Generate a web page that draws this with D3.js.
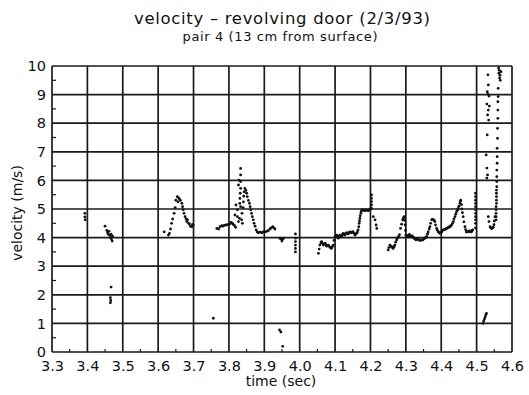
<!DOCTYPE html>
<html>
<head>
<meta charset="utf-8">
<script src="https://cdn.jsdelivr.net/npm/d3@7"></script>
<style>
  body { margin: 0; background: #fff; }
  svg text { font-family: "DejaVu Sans", sans-serif; fill: #111; }
</style>
</head>
<body>
<div id="chart"></div>
<script>
// axis ticks
const xTicks = [3.3, 3.4, 3.5, 3.6, 3.7, 3.8, 3.9, 4.0, 4.1, 4.2, 4.3, 4.4, 4.5, 4.6];
const yTicks = [0, 1, 2, 3, 4, 5, 6, 7, 8, 9, 10];

// velocity samples [time (sec), velocity (m/s)]
const burst339 = [[3.393, 4.85], [3.393, 4.72], [3.394, 4.62]];
const burst345 = [[3.450, 4.40], [3.455, 4.25], [3.457, 4.18], [3.459, 4.12], [3.461, 4.22], [3.463, 4.08],
  [3.465, 4.00], [3.467, 4.12], [3.468, 3.95], [3.470, 3.88], [3.471, 4.05]];
const lowDots = [[3.467, 2.27], [3.465, 1.90], [3.466, 1.80], [3.465, 1.72], [3.756, 1.18],
  [3.943, 0.77], [3.947, 0.70], [3.952, 0.20]];
const burst362 = [[3.617, 4.20], [3.629, 4.09], [3.632, 4.15], [3.635, 4.30], [3.638, 4.50], [3.641, 4.65],
  [3.645, 4.85], [3.648, 5.05], [3.650, 5.31], [3.654, 5.43], [3.657, 5.40], [3.656, 5.25], [3.660, 5.35],
  [3.663, 5.30], [3.667, 5.20], [3.669, 5.08], [3.671, 4.97], [3.673, 4.85], [3.676, 4.73], [3.679, 4.65],
  [3.681, 4.56], [3.683, 4.62], [3.686, 4.50], [3.688, 4.48], [3.691, 4.40], [3.695, 4.38], [3.697, 4.46],
  [3.699, 4.44]];
const burst377 = [[3.766, 4.32], [3.771, 4.30], [3.775, 4.38], [3.780, 4.42], [3.783, 4.40], [3.787, 4.43],
  [3.792, 4.44], [3.796, 4.45], [3.800, 4.47], [3.803, 4.48], [3.806, 4.53], [3.810, 4.50], [3.812, 4.46],
  [3.816, 4.42], [3.819, 4.36]];
const spike383 = [[3.833, 6.42], [3.833, 6.19], [3.833, 5.96], [3.833, 5.72], [3.832, 5.55], [3.831, 5.37],
  [3.831, 5.20], [3.833, 5.08], [3.837, 4.85], [3.836, 4.62], [3.838, 4.50], [3.820, 5.14], [3.817, 4.79],
  [3.824, 4.97], [3.824, 4.73], [3.827, 4.56], [3.830, 4.67], [3.828, 6.01], [3.827, 5.84]];
const burst385 = [[3.840, 5.05], [3.841, 5.25], [3.842, 5.45], [3.843, 5.60], [3.845, 5.72], [3.848, 5.65],
  [3.850, 5.55], [3.852, 5.43], [3.855, 5.30], [3.858, 5.20], [3.860, 5.08], [3.862, 4.97], [3.864, 4.85],
  [3.866, 4.73], [3.869, 4.62], [3.871, 4.50], [3.874, 4.40], [3.877, 4.27], [3.880, 4.20], [3.883, 4.17],
  [3.888, 4.19], [3.893, 4.17], [3.897, 4.20], [3.902, 4.20], [3.907, 4.22], [3.911, 4.24], [3.916, 4.30],
  [3.919, 4.34], [3.924, 4.38], [3.927, 4.34], [3.930, 4.30]];
const burst395 = [[3.944, 3.98], [3.947, 3.95], [3.950, 3.88], [3.952, 3.95], [3.954, 3.98]];
const dots399 = [[3.988, 4.13], [3.988, 3.98], [3.988, 3.86], [3.988, 3.74], [3.988, 3.62], [3.988, 3.50]];
const burst410 = [[4.053, 3.45], [4.055, 3.60], [4.057, 3.74], [4.060, 3.82], [4.062, 3.86], [4.064, 3.80],
  [4.067, 3.74], [4.069, 3.78], [4.072, 3.80], [4.074, 3.75], [4.076, 3.70], [4.079, 3.72], [4.081, 3.74],
  [4.083, 3.70], [4.086, 3.66], [4.088, 3.64], [4.090, 3.62], [4.092, 3.68], [4.095, 3.74], [4.097, 3.90],
  [4.100, 4.03], [4.102, 4.06], [4.105, 4.09], [4.107, 4.03], [4.109, 3.98], [4.111, 4.04], [4.114, 4.09],
  [4.116, 4.06], [4.119, 4.03], [4.121, 4.10], [4.123, 4.15], [4.126, 4.12], [4.128, 4.09], [4.130, 4.14],
  [4.133, 4.17], [4.135, 4.15], [4.137, 4.13], [4.140, 4.17], [4.142, 4.20], [4.144, 4.18], [4.147, 4.17],
  [4.149, 4.20], [4.151, 4.20], [4.154, 4.15], [4.156, 4.09], [4.158, 4.12], [4.161, 4.15], [4.163, 4.20],
  [4.165, 4.27], [4.167, 4.38], [4.168, 4.50], [4.169, 4.58], [4.170, 4.67], [4.171, 4.76], [4.173, 4.85],
  [4.174, 4.92], [4.176, 4.97], [4.179, 4.97], [4.182, 4.95], [4.184, 4.94], [4.186, 4.96], [4.189, 4.97],
  [4.191, 4.95], [4.194, 4.94], [4.196, 4.97], [4.199, 5.00], [4.203, 5.49], [4.203, 5.37], [4.203, 5.26],
  [4.203, 5.14], [4.203, 5.02], [4.208, 4.73], [4.213, 4.62], [4.216, 4.44], [4.218, 4.32]];
const burst435 = [[4.250, 3.57], [4.252, 3.65], [4.255, 3.74], [4.257, 3.70], [4.260, 3.68], [4.262, 3.65],
  [4.264, 3.62], [4.267, 3.68], [4.269, 3.74], [4.271, 3.84], [4.274, 3.92], [4.276, 3.98], [4.279, 4.03],
  [4.282, 4.10], [4.285, 4.32], [4.288, 4.47], [4.291, 4.62], [4.293, 4.68], [4.295, 4.73], [4.296, 4.60],
  [4.298, 4.44], [4.299, 4.25], [4.300, 4.09], [4.302, 4.06], [4.304, 4.03], [4.307, 4.08], [4.310, 4.11],
  [4.312, 4.05], [4.314, 4.03], [4.316, 4.05], [4.318, 4.06], [4.321, 4.02], [4.323, 3.98], [4.326, 3.95],
  [4.329, 3.92], [4.332, 3.94], [4.335, 3.95], [4.338, 3.92], [4.340, 3.90], [4.344, 3.91], [4.348, 3.92],
  [4.351, 3.96], [4.354, 3.98], [4.356, 4.00], [4.359, 4.03], [4.361, 4.12], [4.363, 4.20], [4.366, 4.30],
  [4.368, 4.38], [4.370, 4.50], [4.373, 4.62], [4.375, 4.64], [4.377, 4.64], [4.380, 4.60], [4.382, 4.56],
  [4.384, 4.44], [4.387, 4.32], [4.389, 4.26], [4.392, 4.20], [4.394, 4.17], [4.396, 4.15], [4.399, 4.18],
  [4.401, 4.20], [4.403, 4.24], [4.406, 4.27], [4.408, 4.28], [4.411, 4.29], [4.413, 4.30], [4.415, 4.32],
  [4.418, 4.34], [4.420, 4.35], [4.422, 4.37], [4.425, 4.38], [4.427, 4.41], [4.429, 4.44], [4.432, 4.50],
  [4.434, 4.56], [4.436, 4.65], [4.439, 4.73], [4.441, 4.82], [4.443, 4.90], [4.446, 4.96], [4.448, 5.02],
  [4.450, 5.10], [4.453, 5.20], [4.454, 5.26], [4.455, 5.31], [4.457, 5.15], [4.458, 5.00], [4.460, 4.87],
  [4.462, 4.73], [4.464, 4.55], [4.467, 4.38], [4.469, 4.28], [4.471, 4.20], [4.473, 4.21], [4.476, 4.20],
  [4.478, 4.22], [4.480, 4.23], [4.482, 4.21], [4.485, 4.20], [4.487, 4.24], [4.489, 4.27]];
const dots450 = [[4.497, 4.34], [4.497, 4.50], [4.497, 4.62], [4.497, 4.73], [4.497, 4.85], [4.497, 4.97],
  [4.497, 5.08], [4.497, 5.20], [4.497, 5.31], [4.497, 5.43], [4.497, 5.55]];
const burst452 = [[4.518, 1.00], [4.520, 1.08], [4.522, 1.15], [4.524, 1.22], [4.526, 1.29], [4.528, 1.35]];
const burst454 = [[4.533, 4.73], [4.535, 4.56], [4.538, 4.38], [4.541, 4.33], [4.543, 4.32], [4.545, 4.35],
  [4.547, 4.36], [4.549, 4.45], [4.550, 4.58], [4.552, 4.73]];
const scatter453 = [[4.532, 9.69], [4.533, 9.34], [4.530, 9.10], [4.532, 9.02], [4.535, 8.95], [4.529, 8.67],
  [4.536, 8.60], [4.533, 8.46], [4.531, 8.29], [4.534, 8.11], [4.530, 7.59], [4.527, 6.89], [4.529, 6.43],
  [4.531, 6.19], [4.529, 6.08]];
const dots456 = [[4.555, 4.62], [4.555, 4.73], [4.555, 4.85], [4.555, 4.97], [4.555, 5.08], [4.556, 5.20],
  [4.556, 5.31], [4.556, 5.43], [4.556, 5.55], [4.556, 5.66], [4.557, 5.78], [4.557, 5.96], [4.557, 6.13],
  [4.557, 6.36], [4.558, 6.60], [4.558, 6.83], [4.558, 7.12], [4.559, 7.47], [4.559, 7.82], [4.560, 8.17],
  [4.560, 8.46], [4.560, 8.75], [4.561, 8.93], [4.561, 9.22]];
const top457 = [[4.562, 9.93], [4.564, 9.85], [4.563, 9.75], [4.566, 9.68], [4.565, 9.58], [4.567, 9.50],
  [4.569, 9.80]];

const samples = [].concat(burst339, burst345, lowDots, burst362, burst377, spike383, burst385, burst395,
  dots399, burst410, burst435, dots450, burst452, burst454, scatter453, dots456, top457);

const W = 529, H = 395;
const margin = { top: 66, right: 17, bottom: 43, left: 52 };
const w = W - margin.left - margin.right;
const h = H - margin.top - margin.bottom;

const svg = d3.select("#chart").append("svg")
  .attr("width", W)
  .attr("height", H);

const x = d3.scaleLinear().domain([3.3, 4.6]).range([0, w]);
const y = d3.scaleLinear().domain([0, 10]).range([h, 0]);

const g = svg.append("g").attr("transform", `translate(${margin.left},${margin.top})`);

// grid
g.append("g").selectAll("line")
  .data(xTicks)
  .join("line")
  .attr("x1", d => x(d)).attr("x2", d => x(d))
  .attr("y1", 0).attr("y2", h)
  .attr("stroke", "#1a1a1a").attr("stroke-width", 1.7);

g.append("g").selectAll("line")
  .data(yTicks)
  .join("line")
  .attr("x1", 0).attr("x2", w)
  .attr("y1", d => y(d)).attr("y2", d => y(d))
  .attr("stroke", "#1a1a1a").attr("stroke-width", 1.7);

// minor ticks
const xMinor = xTicks.slice(0, -1).map(d => d + 0.05);
const yMinor = yTicks.slice(0, -1).map(d => d + 0.5);

g.append("g").selectAll("line")
  .data(xMinor)
  .join("line")
  .attr("x1", d => x(d)).attr("x2", d => x(d))
  .attr("y1", h).attr("y2", h - 3)
  .attr("stroke", "#1a1a1a").attr("stroke-width", 1.2);

g.append("g").selectAll("line")
  .data(yMinor)
  .join("line")
  .attr("x1", 0).attr("x2", 4)
  .attr("y1", d => y(d)).attr("y2", d => y(d))
  .attr("stroke", "#1a1a1a").attr("stroke-width", 1.2);

// tick labels through axes
const xAxis = g.append("g")
  .attr("transform", `translate(0,${h})`)
  .call(d3.axisBottom(x).tickValues(xTicks).tickSize(0).tickPadding(9).tickFormat(d3.format(".1f")));
const yAxis = g.append("g")
  .call(d3.axisLeft(y).tickValues(yTicks).tickSize(0).tickPadding(6).tickFormat(d3.format("d")));
[xAxis, yAxis].forEach(a => {
  a.select(".domain").remove();
  a.selectAll("text").attr("font-family", "DejaVu Sans, sans-serif").attr("font-size", 14.5).attr("fill", "#111");
});

// samples
g.append("g").selectAll("circle")
  .data(samples)
  .join("circle")
  .attr("cx", d => x(d[0]))
  .attr("cy", d => y(d[1]))
  .attr("r", 1.4)
  .attr("fill", "#111");

// titles
svg.append("text")
  .attr("x", 282).attr("y", 24)
  .attr("text-anchor", "middle")
  .attr("font-size", 16.5)
  .attr("textLength", 296)
  .attr("lengthAdjust", "spacing")
  .text("velocity – revolving door (2/3/93)");

svg.append("text")
  .attr("x", 280).attr("y", 41)
  .attr("text-anchor", "middle")
  .attr("font-size", 13)
  .attr("textLength", 195)
  .attr("lengthAdjust", "spacing")
  .text("pair 4 (13 cm from surface)");

svg.append("text")
  .attr("x", 281).attr("y", 386)
  .attr("text-anchor", "middle")
  .attr("font-size", 14)
  .text("time (sec)");

svg.append("text")
  .attr("transform", "translate(22,213) rotate(-90)")
  .attr("text-anchor", "middle")
  .attr("font-size", 14)
  .text("velocity (m/s)");
</script>
</body>
</html>
